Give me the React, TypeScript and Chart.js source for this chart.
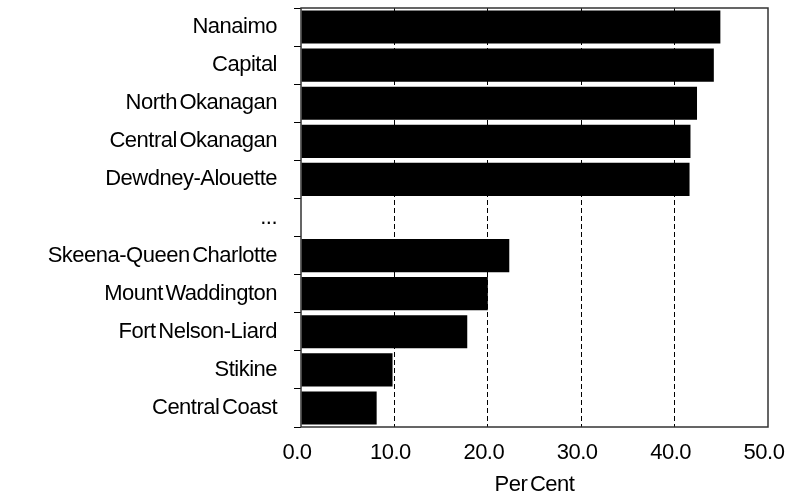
import React, { useEffect, useRef } from "react";
import { Chart, registerables } from "chart.js";

Chart.register(...registerables);

const categories = [
  "Nanaimo",
  "Capital",
  "North Okanagan",
  "Central Okanagan",
  "Dewdney-Alouette",
  "...",
  "Skeena-Queen Charlotte",
  "Mount Waddington",
  "Fort Nelson-Liard",
  "Stikine",
  "Central Coast",
];

const perCent = [44.9, 44.2, 42.4, 41.7, 41.6, null, 22.3, 20.0, 17.8, 9.8, 8.1];

const xTicks = [0, 10, 20, 30, 40, 50];

const FONT = "'Liberation Sans', Arial, sans-serif";

function applySpacing(chart: any) {
  chart.ctx.letterSpacing = "-0.5px";
  chart.ctx.wordSpacing = "-3px";
}

const spacingPlugin = {
  id: "spacing",
  beforeUpdate(chart: any) {
    applySpacing(chart);
  },
  beforeLayout(chart: any) {
    applySpacing(chart);
  },
  beforeDraw(chart: any) {
    applySpacing(chart);
  },
};

const framePlugin = {
  id: "frame",
  afterDatasetsDraw(chart: any) {
    const { ctx, chartArea } = chart;
    ctx.save();
    ctx.strokeStyle = "#333333";
    ctx.lineWidth = 1.5;
    ctx.setLineDash([]);
    ctx.strokeRect(chartArea.left, chartArea.top, chartArea.right - chartArea.left, chartArea.bottom - chartArea.top);
    ctx.restore();
  },
};

export default function App() {
  const ref = useRef<HTMLCanvasElement>(null);

  useEffect(() => {
    document.body.style.margin = "0";
    document.body.style.overflow = "hidden";
    const canvas = ref.current!;
    const chart = new Chart(canvas, {
      type: "bar",
      data: {
        labels: categories,
        datasets: [
          {
            label: "Per Cent",
            data: perCent as any,
            backgroundColor: "#000000",
            borderColor: "#000000",
            borderWidth: 0,
            barPercentage: 0.87,
            categoryPercentage: 1,
          },
        ],
      },
      options: {
        indexAxis: "y",
        animation: false,
        responsive: false,
        maintainAspectRatio: false,
        layout: { padding: { top: 8, right: 18, bottom: 0, left: 0 } },
        plugins: {
          legend: { display: false },
          tooltip: { enabled: false },
          title: { display: false },
        },
        scales: {
          x: {
            type: "linear",
            min: 0,
            max: 50,
            afterBuildTicks(scale: any) {
              scale.ticks = xTicks.map((v) => ({ value: v }));
            },
            afterFit(scale: any) {
              scale.height = 71;
              scale.paddingLeft = 0;
              scale.paddingRight = 0;
            },
            ticks: {
              color: "#000000",
              font: { family: FONT, size: 22 },
              padding: 13,
              labelOffset: -4,
              maxRotation: 0,
              autoSkip: false,
              callback: (v: any) => Number(v).toFixed(1),
            },
            grid: {
              display: true,
              drawTicks: false,
              drawOnChartArea: true,
              lineWidth: 1,
              color: (ctx: any) =>
                ctx.tick && (ctx.tick.value === 0 || ctx.tick.value === 50) ? "rgba(0,0,0,0)" : "#000000",
            },
            border: { display: false, dash: [5, 3] },
            title: {
              display: true,
              text: "Per Cent",
              color: "#000000",
              font: { family: FONT, size: 22 },
              padding: { top: 0, bottom: 0 },
            },
          },
          y: {
            type: "category",
            offset: true,
            afterFit(scale: any) {
              scale.width = 301;
              scale.paddingTop = 0;
              scale.paddingBottom = 0;
            },
            ticks: {
              color: "#000000",
              font: { family: FONT, size: 22 },
              padding: 17,
              autoSkip: false,
            },
            grid: {
              display: true,
              drawOnChartArea: false,
              drawTicks: true,
              tickLength: 7,
              tickColor: "#000000",
              tickWidth: 1,
            },
            border: { display: false },
          },
        },
      },
      plugins: [spacingPlugin, framePlugin],
    });
    return () => chart.destroy();
  }, []);

  return <canvas ref={ref} width={786} height={498} style={{ display: "block" }} />;
}
